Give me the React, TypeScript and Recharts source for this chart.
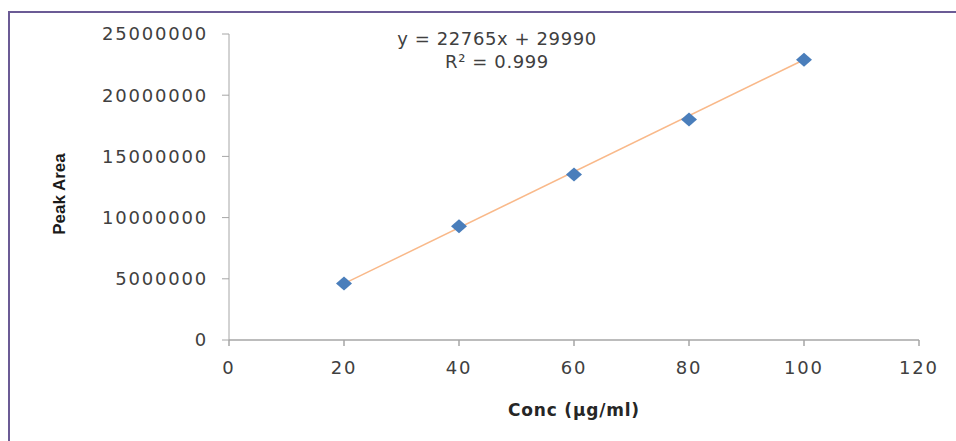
import { ScatterChart, Scatter, XAxis, YAxis } from 'recharts';

const concs = [20, 40, 60, 80, 100];
const peakAreas = [4620000, 9290000, 13530000, 18010000, 22900000];
const trendX = [20, 100];
const trendY = [4600000, 22900000];
const xTicks = [0, 20, 40, 60, 80, 100, 120];
const yTicks = [0, 5000000, 10000000, 15000000, 20000000, 25000000];

const points = concs.map((x, i) => ({ x, y: peakAreas[i] }));
const trend = trendX.map((x, i) => ({ x, y: trendY[i] }));

const tickFont = { fontFamily: 'DejaVu Sans, sans-serif', fontSize: 18, fill: '#404040', letterSpacing: 1.8 };

function Diamond(props: any) {
  const { cx, cy } = props;
  if (cx == null || cy == null) return null;
  return (
    <polygon
      points={`${cx - 8},${cy} ${cx},${cy - 7} ${cx + 8},${cy} ${cx},${cy + 7}`}
      fill="#4a7ebb"
    />
  );
}

export default function App() {
  return (
    <div style={{ position: 'absolute', left: 0, top: 0, width: 956, height: 441, background: '#fff' }}>
      <div
        style={{
          position: 'absolute',
          left: 8,
          top: 11,
          right: 0,
          bottom: 0,
          borderTop: '2px solid #6b5b95',
          borderLeft: '2px solid #6b5b95',
        }}
      />
      <ScatterChart width={956} height={441} margin={{ top: 34, right: 37, bottom: 71, left: 149 }} style={{ position: 'absolute', left: 0, top: 0 }}>
        <XAxis
          type="number"
          dataKey="x"
          domain={[0, 120]}
          ticks={xTicks}
          height={30}
          stroke="#a6a6a6"
          strokeWidth={1.5}
          tickSize={6}
          tickMargin={15}
          tick={tickFont}
          label={{
            value: 'Conc (µg/ml)',
            position: 'insideBottom',
            offset: -46,
            style: { fontFamily: 'DejaVu Sans, sans-serif', fontSize: 17, fontWeight: 'bold', fill: '#262626', letterSpacing: 0.8 },
          }}
        />
        <YAxis
          type="number"
          dataKey="y"
          domain={[0, 25000000]}
          ticks={yTicks}
          width={80}
          stroke="#a6a6a6"
          tickSize={7}
          tickMargin={14}
          tick={tickFont}
          label={{
            value: 'Peak Area',
            angle: -90,
            position: 'insideLeft',
            offset: -90,
            dy: 7,
            style: { fontFamily: 'Liberation Sans Narrow, Liberation Sans, sans-serif', fontSize: 17, fontWeight: 'bold', fill: '#1a1a1a', textAnchor: 'middle' },
          }}
        />
        <Scatter
          data={trend}
          line={{ stroke: '#f9b98a', strokeWidth: 1.5 }}
          shape={() => null}
          isAnimationActive={false}
        />
        <Scatter data={points} shape={Diamond} isAnimationActive={false} />
      </ScatterChart>
      <div
        style={{
          position: 'absolute',
          left: 397,
          width: 200,
          top: 27,
          textAlign: 'center',
          fontFamily: 'DejaVu Sans, sans-serif',
          fontSize: 18,
          letterSpacing: 0.6,
          lineHeight: '23px',
          color: '#404040',
          whiteSpace: 'nowrap',
        }}
      >
        <div>y = 22765x + 29990</div>
        <div>R² = 0.999</div>
      </div>
    </div>
  );
}
